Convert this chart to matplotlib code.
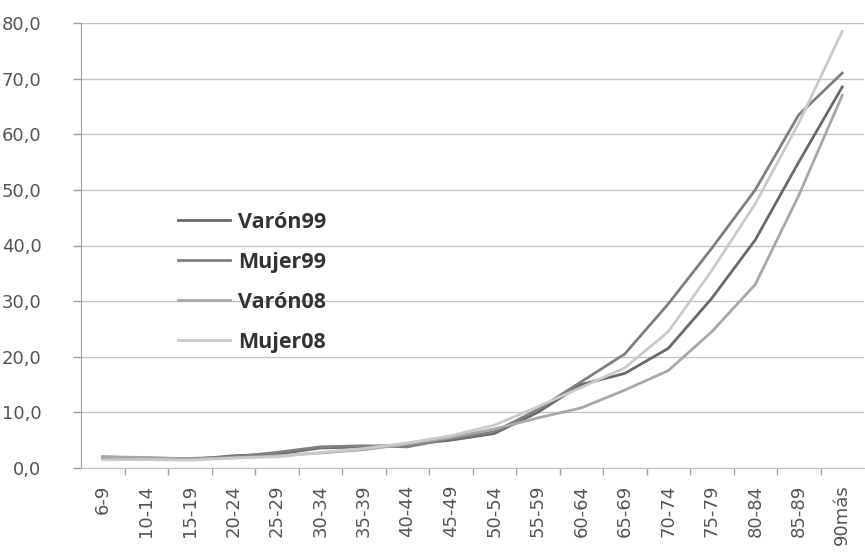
import matplotlib
matplotlib.use("Agg")
import matplotlib.pyplot as plt
from matplotlib.ticker import FuncFormatter, FixedLocator

age_groups = ["6-9", "10-14", "15-19", "20-24", "25-29", "30-34", "35-39",
              "40-44", "45-49", "50-54", "55-59", "60-64", "65-69", "70-74",
              "75-79", "80-84", "85-89", "90más"]

varon99 = [1.7, 1.6, 1.5, 2.2, 2.5, 3.6, 3.8, 4.2, 5.0, 6.2, 10.0, 15.0,
           17.0, 21.5, 30.5, 41.0, 55.0, 68.5]
mujer99 = [2.0, 1.8, 1.7, 2.0, 2.8, 3.8, 4.0, 3.8, 5.3, 6.5, 10.5, 15.5,
           20.5, 29.5, 39.5, 50.0, 63.5, 71.0]
varon08 = [2.0, 1.9, 1.6, 1.8, 2.2, 2.7, 3.3, 4.3, 5.5, 7.0, 9.0, 10.8,
           14.0, 17.5, 24.5, 33.0, 49.0, 67.0]
mujer08 = [1.5, 1.5, 1.4, 1.8, 2.0, 2.8, 3.5, 4.5, 5.8, 7.7, 11.0, 14.5,
           18.0, 24.5, 35.5, 47.5, 62.0, 78.5]

series = [
    ("Varón99", varon99, "#6a6a6a"),
    ("Mujer99", mujer99, "#808080"),
    ("Varón08", varon08, "#a8a8a8"),
    ("Mujer08", mujer08, "#cacaca"),
]

fig = plt.figure(figsize=(8.65, 5.58), dpi=100)
ax = fig.add_axes([81 / 865, (558 - 468) / 558, (864 - 81) / 865, (468 - 23) / 558])

x = list(range(len(age_groups)))
for name, vals, col in series:
    ax.plot(x, vals, color=col, lw=2.0, label=name, solid_joinstyle="round")

ax.set_xlim(-0.5, len(age_groups) - 0.5)
ax.set_ylim(0, 80)
ax.set_yticks(range(0, 81, 10))
ax.yaxis.set_major_formatter(FuncFormatter(lambda v, p: f"{v:.1f}".replace(".", ",")))
ax.grid(axis="y", color="#c4c4c4", lw=1.0)
ax.set_axisbelow(True)

ax.set_xticks(x)
ax.set_xticklabels(age_groups, rotation=90, color="#555555", fontsize=13,
                   fontfamily="DejaVu Sans")
ax.xaxis.set_minor_locator(FixedLocator([i + 0.5 for i in range(len(age_groups) - 1)]))
ax.tick_params(axis="x", which="major", length=0, pad=12)
ax.tick_params(axis="x", which="minor", length=5, color="#a0a0a0", width=1)
ax.tick_params(axis="y", length=5.5, color="#a0a0a0", width=1, labelsize=13,
               labelcolor="#555555", pad=23)

for s in ("top", "right"):
    ax.spines[s].set_visible(False)
ax.spines["left"].set_color("#a0a0a0")
ax.spines["bottom"].set_color("#c4c4c4")

leg = ax.legend(loc="upper left", bbox_to_anchor=(178 / 865, (558 - 212) / 558),
                bbox_transform=fig.transFigure, frameon=False,
                borderpad=0, borderaxespad=0,
                handlelength=2.42, handletextpad=0.37, labelspacing=0.88,
                prop={"family": "Open Sans", "weight": "bold", "size": 15.5})
for t in leg.get_texts():
    t.set_color("#333333")

fig.savefig("out.png", dpi=100)
